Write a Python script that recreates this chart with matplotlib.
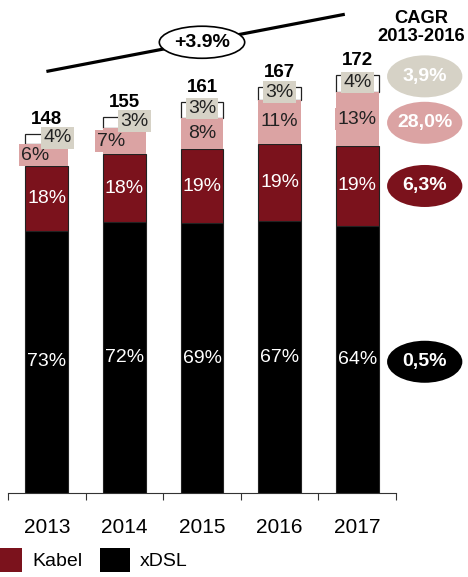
import matplotlib.pyplot as plt
from matplotlib.patches import Ellipse, Patch
import numpy as np

plt.rcParams['font.family'] = ['Liberation Sans', 'DejaVu Sans']

years = ['2013', '2014', '2015', '2016', '2017']
totals = [148, 155, 161, 167, 172]
# share of total per segment, in percent (bottom to top)
xdsl = [73, 72, 69, 67, 64]
kabel = [18, 18, 19, 19, 19]
fiber = [6, 7, 8, 11, 13]
other = [4, 3, 3, 3, 4]
cagr_labels = ['0,5%', '6,3%', '28,0%', '3,9%']
trend_label = '+3.9%'

c_xdsl = '#000000'
c_kabel = '#7b121c'
c_fiber = '#dba3a3'
c_other = '#d6d2c6'

fig = plt.figure(figsize=(4.68, 5.77), dpi=100)
ax = fig.add_axes([8 / 468, 84 / 577, 388 / 468, 493 / 577])

x = np.arange(len(years))
tot = np.array(totals, dtype=float)
segs = [np.array(s) / 100 * tot for s in (xdsl, kabel, fiber, other)]
w = 0.55

b0 = np.zeros(len(years))
ax.bar(x, segs[0], w, bottom=b0, color=c_xdsl, edgecolor='#222222', lw=0.8)
b1 = b0 + segs[0]
ax.bar(x, segs[1], w, bottom=b1, color=c_kabel, edgecolor='#222222', lw=0.8)
b2 = b1 + segs[1]
b3 = b2 + segs[2]
# top segment fills up to the total
top_h = tot - b3
ax.bar(x, top_h, w, bottom=b3, color='white', edgecolor='#222222', lw=0.9)
ax.bar(x, segs[2], w, bottom=b2, color=c_fiber, edgecolor='none', lw=0)

fs = 14
for i in range(len(years)):
    ax.text(x[i], b0[i] + segs[0][i] / 2, f'{xdsl[i]}%', ha='center', va='center',
            color='white', fontsize=fs)
    ax.text(x[i], b1[i] + segs[1][i] / 2, f'{kabel[i]}%', ha='center', va='center',
            color='white', fontsize=fs)
    dx_f = [-0.15, -0.17][i] if i < 2 else 0
    dx_o = [0.135, 0.13][i] if i < 2 else 0
    ax.text(x[i] + dx_f, b2[i] + segs[2][i] / 2, f'{fiber[i]}%', ha='center', va='center',
            color='#222222', fontsize=fs,
            bbox=dict(boxstyle='square,pad=0.12', fc=c_fiber, ec='none'))
    ax.text(x[i] + dx_o, b3[i] + top_h[i] / 2 + 0.5, f'{other[i]}%', ha='center', va='center',
            color='#222222', fontsize=fs,
            bbox=dict(boxstyle='square,pad=0.12', fc=c_other, ec='none'))
    ax.text(x[i], tot[i] + 2.5, str(totals[i]), ha='center', va='bottom',
            fontsize=13.5, fontweight='bold')

# trend line with bubble
ax.plot([0.015, 3.82], [173.7, 197.0], color='black', lw=2.3, clip_on=False)
ax.add_patch(Ellipse((2.0, 185.6), 1.1, 13.2, fc='white', ec='black', lw=1.2,
                     clip_on=False, zorder=3))
ax.text(2.0, 185.6, trend_label, ha='center', va='center', fontsize=14,
        fontweight='bold', zorder=4)

# CAGR bubbles aligned with 2017 segments
cx = 4.87
cag_y = [b0[-1] + segs[0][-1] / 2 - 1, b1[-1] + segs[1][-1] / 2,
         b2[-1] + segs[2][-1] / 2 - 1.5, b3[-1] + top_h[-1] / 2 + 3]
cag_c = [c_xdsl, c_kabel, c_fiber, c_other]
for yy, lab, cc in zip(cag_y, cagr_labels, cag_c):
    ax.add_patch(Ellipse((cx, yy), 0.97, 17.3, fc=cc, ec='none', clip_on=False))
    ax.text(cx, yy, lab, ha='center', va='center', color='white', fontsize=14,
            fontweight='bold', clip_on=False)
ax.text(4.82, 191.6, 'CAGR\n2013-2016', ha='center', va='center', fontsize=13.2,
        fontweight='bold', linespacing=1.1, clip_on=False)

ax.set_xlim(-0.5, 4.5)
ax.set_ylim(0, 203)
for s in ['top', 'right', 'left']:
    ax.spines[s].set_visible(False)
ax.spines['bottom'].set_color('#333333')
ax.set_yticks([])
ax.set_xticks(np.arange(-0.5, 5, 1))
ax.set_xticklabels([])
ax.set_xticks(x, minor=True)
ax.set_xticklabels(years, minor=True, fontsize=15)
ax.tick_params(axis='x', which='major', length=5, color='#333333')
ax.tick_params(axis='x', which='minor', length=0, pad=18)

handles = [Patch(fc=c_kabel, ec='none'), Patch(fc=c_xdsl, ec='none')]
fig.legend(handles, ['Kabel', 'xDSL'], loc='center left', bbox_to_anchor=(-0.017, 0.0295),
           ncol=2, frameon=False, fontsize=14, handlelength=1.55, handleheight=1.55,
           handletextpad=0.5, columnspacing=0.92, borderpad=0, borderaxespad=0)

fig.savefig('out.png', dpi=100)
